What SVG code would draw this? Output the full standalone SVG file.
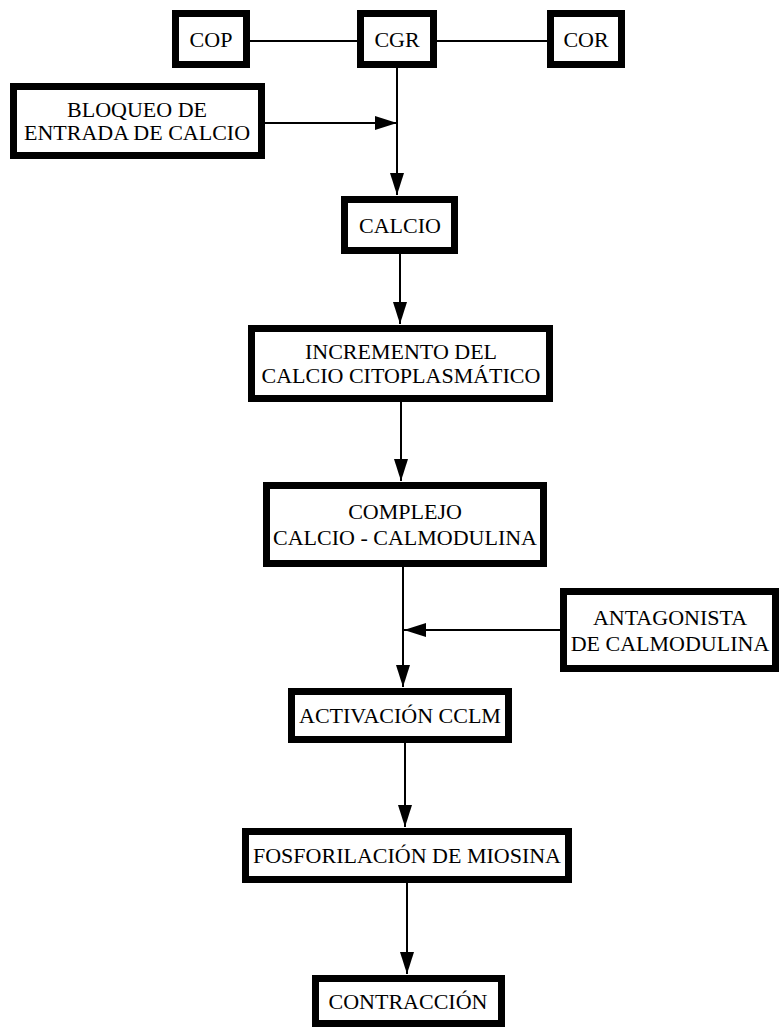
<svg xmlns="http://www.w3.org/2000/svg" width="781" height="1028" viewBox="0 0 781 1028">
<style>
.box{fill:#fff;stroke:#000;stroke-width:7}
text{font-family:'Liberation Serif','Times New Roman','DejaVu Serif',serif;font-size:22px;fill:#000;text-anchor:middle}
.c{stroke:#000;stroke-width:2;fill:none}
</style>
<defs>
<marker id="ah" markerUnits="userSpaceOnUse" markerWidth="24" markerHeight="16" refX="22" refY="7" orient="auto" viewBox="0 0 24 16">
<path d="M0,0 L22,7 L0,14 z" fill="#000"/>
</marker>
</defs>
<rect width="781" height="1028" fill="#fff"/>
<g id="connectors">
<line class="c" x1="250" y1="41" x2="357" y2="41"/>
<line class="c" x1="437" y1="41" x2="547" y2="41"/>
<line class="c" x1="397" y1="68" x2="397" y2="195" marker-end="url(#ah)"/>
<line class="c" x1="265" y1="123" x2="397" y2="123" marker-end="url(#ah)"/>
<line class="c" x1="400" y1="254" x2="400" y2="324" marker-end="url(#ah)"/>
<line class="c" x1="401" y1="402" x2="401" y2="481" marker-end="url(#ah)"/>
<line class="c" x1="403" y1="567" x2="403" y2="687" marker-end="url(#ah)"/>
<line class="c" x1="560" y1="630" x2="404" y2="630" marker-end="url(#ah)"/>
<line class="c" x1="405" y1="743" x2="405" y2="827" marker-end="url(#ah)"/>
<line class="c" x1="407" y1="883" x2="407" y2="974" marker-end="url(#ah)"/>
</g>
<g id="cop"><rect class="box" x="175.5" y="13.5" width="71" height="51"/><text x="211" y="47">COP</text></g>
<g id="cgr"><rect class="box" x="360.5" y="13.5" width="73" height="51"/><text x="397" y="47">CGR</text></g>
<g id="cor"><rect class="box" x="550.5" y="13.5" width="71" height="51"/><text x="586" y="47">COR</text></g>
<g id="bloqueo"><rect class="box" x="13.5" y="86.5" width="248" height="69"/><text x="137" y="117">BLOQUEO DE</text><text x="137" y="140">ENTRADA DE CALCIO</text></g>
<g id="calcio"><rect class="box" x="344.5" y="199.5" width="110" height="51"/><text x="400" y="233">CALCIO</text></g>
<g id="incremento"><rect class="box" x="251.5" y="328.5" width="298" height="70"/><text x="401" y="359">INCREMENTO DEL</text><text x="401" y="383">CALCIO CITOPLASMÁTICO</text></g>
<g id="complejo"><rect class="box" x="266.5" y="485.5" width="277" height="78"/><text x="405" y="519">COMPLEJO</text><text x="405" y="545">CALCIO - CALMODULINA</text></g>
<g id="antagonista"><rect class="box" x="563.5" y="591.5" width="212" height="77"/><text x="670" y="625">ANTAGONISTA</text><text x="670" y="651">DE CALMODULINA</text></g>
<g id="activacion"><rect class="box" x="291.5" y="691.5" width="217" height="48"/><text x="400" y="723">ACTIVACIÓN CCLM</text></g>
<g id="fosforilacion"><rect class="box" x="245.5" y="831.5" width="323" height="48"/><text x="407" y="863">FOSFORILACIÓN DE MIOSINA</text></g>
<g id="contraccion"><rect class="box" x="315.5" y="978.5" width="186" height="45"/><text x="408" y="1009">CONTRACCIÓN</text></g>
</svg>
